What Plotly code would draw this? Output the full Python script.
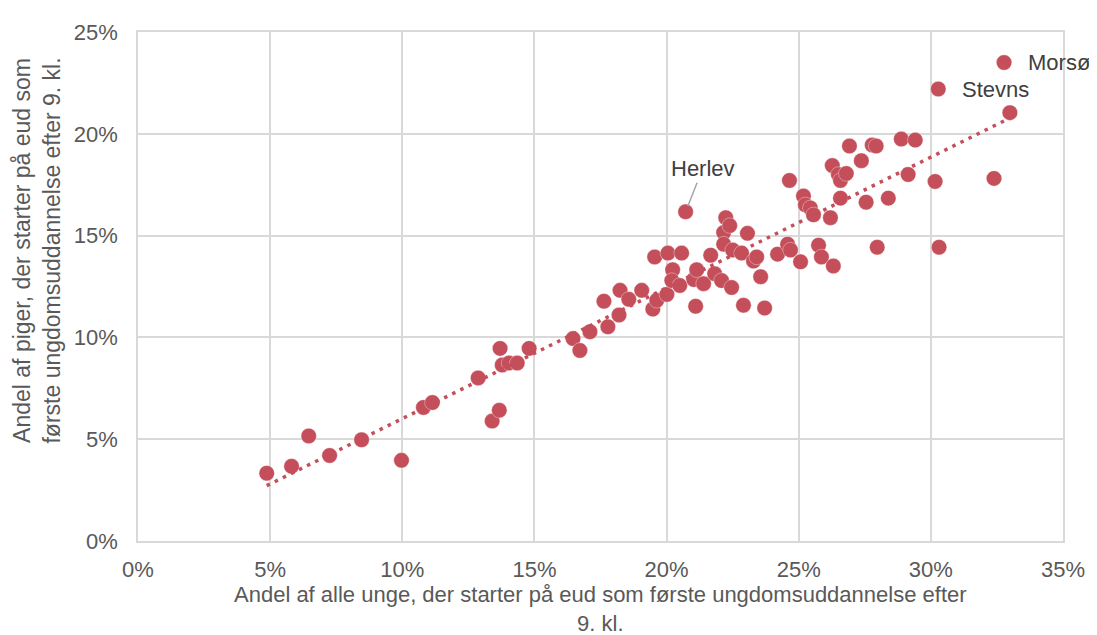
import numpy as np
import plotly.graph_objects as go

# Share of all youth starting VET (x, %) and share of girls starting VET (y, %)
x_vals = [4.87, 5.81, 6.46, 7.25, 8.46, 9.97, 10.80, 11.14, 12.87, 13.40,
          13.67, 13.70, 13.78, 14.04, 14.35, 14.80, 16.46, 16.72, 17.10, 17.63,
          17.78, 18.20, 18.24, 18.57, 19.06, 19.48, 19.55, 19.63, 20.01, 20.05,
          20.23, 20.20, 20.50, 20.57, 20.72, 21.03, 21.10, 21.14, 21.40, 21.67,
          21.82, 22.08, 22.24, 22.16, 22.16, 22.39, 22.46, 22.50, 22.84, 22.91,
          23.06, 23.29, 23.41, 23.56, 23.71, 24.20, 24.65, 24.58, 24.69, 25.07,
          25.18, 25.25, 25.44, 25.56, 25.75, 25.86, 26.20, 26.27, 26.31, 26.50,
          26.58, 26.58, 26.80, 26.92, 27.37, 27.55, 27.78, 27.93, 27.97, 28.39,
          28.88, 29.14, 29.41, 30.16, 30.31, 30.28, 32.39, 32.77, 32.99]
y_vals = [3.33, 3.67, 5.16, 4.20, 4.97, 3.96, 6.56, 6.80, 8.01, 5.89,
          6.42, 9.46, 8.64, 8.74, 8.74, 9.46, 9.94, 9.36, 10.28, 11.78,
          10.52, 11.10, 12.31, 11.87, 12.31, 11.39, 13.95, 11.82, 12.11, 14.14,
          13.32, 12.79, 12.55, 14.14, 16.17, 12.84, 11.53, 13.32, 12.64, 14.04,
          13.13, 12.79, 15.88, 15.15, 14.58, 15.49, 12.45, 14.29, 14.14, 11.58,
          15.11, 13.75, 13.95, 12.98, 11.44, 14.09, 17.71, 14.58, 14.29, 13.71,
          16.94, 16.51, 16.36, 16.02, 14.53, 13.95, 15.88, 18.44, 13.51, 18.00,
          17.71, 16.84, 18.05, 19.40, 18.68, 16.64, 19.45, 19.40, 14.43, 16.84,
          19.74, 18.00, 19.69, 17.66, 14.43, 22.20, 17.81, 23.50, 21.04]

labels = {"Herlev": 34, "Stevns": 85, "Morsø": 87}

x_ticks = [0, 5, 10, 15, 20, 25, 30, 35]
y_ticks = [0, 5, 10, 15, 20, 25]

x_title = "Andel af alle unge, der starter på eud som første ungdomsuddannelse efter<br>9. kl."
y_title = "Andel af piger, der starter på eud som<br>første ungdomsuddannelse efter 9. kl."

xa = np.array(x_vals) / 100
ya = np.array(y_vals) / 100
slope, intercept = np.polyfit(xa, ya, 1)
tx = np.array([xa.min(), xa.max()])
ty = slope * tx + intercept

RED = "#C44E5A"
GREY = "#595959"
FONT = "Liberation Sans, Arial, sans-serif"

fig = go.Figure()
fig.add_trace(go.Scatter(
    x=xa, y=ya, mode="markers",
    marker=dict(size=15.5, color=RED, line=dict(color="rgba(255,255,255,0.6)", width=0.6)),
    showlegend=False, hoverinfo="skip"))
fig.add_trace(go.Scatter(
    x=tx, y=ty, mode="lines",
    line=dict(color=RED, width=3.5, dash="3.5px,5.5px"),
    showlegend=False, hoverinfo="skip"))

annotations = []
hi = labels["Herlev"]
annotations.append(dict(x=xa[hi], y=ya[hi], xref="x", yref="y", text="Herlev",
                        showarrow=True, arrowhead=0, arrowwidth=1.5, arrowcolor="#A6A6A6",
                        ax=17, ay=-43, standoff=6,
                        font=dict(family=FONT, size=22, color="#404040")))
for name in ["Stevns", "Morsø"]:
    i = labels[name]
    annotations.append(dict(x=xa[i], y=ya[i], xref="x", yref="y", text=name,
                            showarrow=False, xanchor="left", yanchor="middle", xshift=22,
                            font=dict(family=FONT, size=22, color="#404040")))
# axis titles
annotations.append(dict(x=0.5, y=-0.133, xref="paper", yref="paper", text=x_title,
                        showarrow=False, xanchor="center", yanchor="middle",
                        font=dict(family=FONT, size=22, color=GREY)))
annotations.append(dict(x=-0.109, y=0.571, xref="paper", yref="paper", text=y_title,
                        showarrow=False, xanchor="center", yanchor="middle", textangle=-90,
                        font=dict(family=FONT, size=23, color=GREY)))

fig.update_layout(
    width=1089, height=627,
    margin=dict(l=130, r=32, t=15, b=94),
    paper_bgcolor="white", plot_bgcolor="white",
    font=dict(family=FONT, size=22, color=GREY),
    annotations=annotations,
)
fig.update_xaxes(
    range=[0, 0.35], tickvals=[v / 100 for v in x_ticks],
    ticktext=[f"{v}%" for v in x_ticks],
    showgrid=True, gridcolor="#D9D9D9", gridwidth=1.5,
    showline=True, linecolor="#D9D9D9", linewidth=1.5, mirror=True,
    zeroline=False, ticks="", tickfont=dict(size=22, color=GREY),
    ticklabelstandoff=8,
)
fig.update_yaxes(
    range=[0, 0.25], tickvals=[v / 100 for v in y_ticks],
    ticktext=[f"{v}%" for v in y_ticks],
    showgrid=True, gridcolor="#D9D9D9", gridwidth=1.5,
    showline=True, linecolor="#D9D9D9", linewidth=1.5, mirror=True,
    zeroline=False, ticks="", tickfont=dict(size=22, color=GREY),
    ticklabelstandoff=14,
)

fig.write_html("out.html")
